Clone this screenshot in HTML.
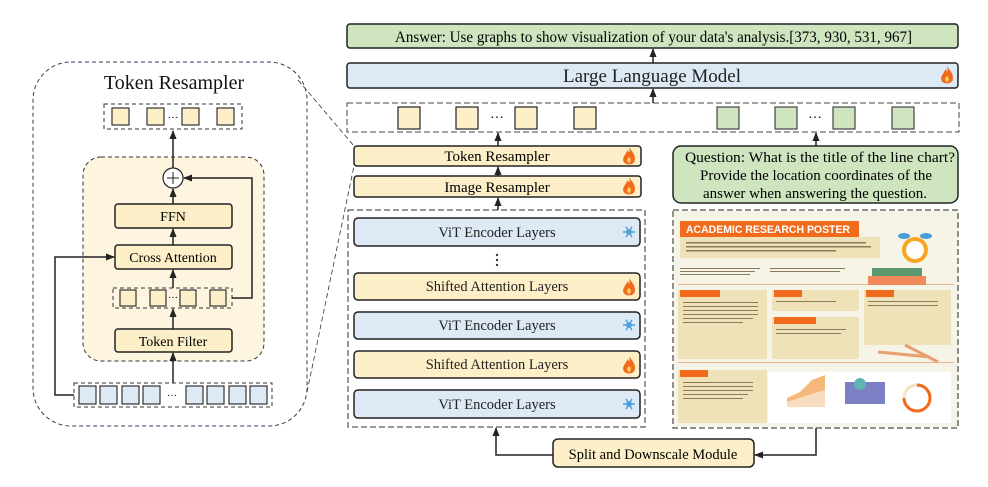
<!DOCTYPE html>
<html><head><meta charset="utf-8"><style>
html,body{margin:0;padding:0;background:#fff;}
svg{display:block;font-family:"Liberation Serif",serif;}
</style></head><body>
<svg width="988" height="487" viewBox="0 0 988 487" xmlns="http://www.w3.org/2000/svg">
<defs>
<marker id="ar" viewBox="0 0 10 10" refX="9" refY="5" markerWidth="6" markerHeight="6" orient="auto-start-reverse"><path d="M0,1 L10,5 L0,9 z" fill="#222"/></marker>
<g id="fire" transform="scale(1.4)"><path d="M0,-7 C3,-3 5,-1 4,3 C3,6 -3,6 -4,3 C-5,0 -2,-2 -1,-5 C0,-3 1,-2 0,-7z" fill="#f26b1d"/><path d="M0,0 C1.5,1 2,3 0,4.5 C-2,3 -1.5,1 0,0z" fill="#ffd166"/></g>
<g id="snow" stroke="#4a9fd8" stroke-width="1.4" fill="none"><path d="M-6,0 H6 M-3,-5.2 L3,5.2 M3,-5.2 L-3,5.2"/><circle r="2.2"/></g>
</defs>

<rect x="33" y="62" width="274" height="364" rx="38" fill="none" stroke="#2c3e5c" stroke-dasharray="4,3"/>
<text x="174" y="89" font-size="20" text-anchor="middle" fill="#111">Token Resampler</text>
<rect x="104" y="104" width="138" height="25" fill="none" stroke="#333" stroke-dasharray="4,3"/>
<g fill="#fdefc8" stroke="#333" stroke-width="1.2"><rect x="112" y="108" width="17" height="17"/><rect x="147" y="108" width="17" height="17"/><rect x="182" y="108" width="17" height="17"/><rect x="217" y="108" width="17" height="17"/></g>
<text x="173" y="121" font-size="11" text-anchor="middle">···</text>
<rect x="83" y="157" width="181" height="204" rx="18" fill="#fdf5e0" stroke="#333" stroke-dasharray="4,3"/>
<line x1="173" y1="168" x2="173" y2="131" stroke="#222" stroke-width="1.5" marker-end="url(#ar)"/>
<circle cx="173" cy="178" r="10" fill="#fff" stroke="#222" stroke-width="1.2"/>
<path d="M167,178 H179 M173,172 V184" stroke="#222"/>
<rect x="115" y="204" width="117" height="24" rx="3" fill="#fdefc8" stroke="#222" stroke-width="1.5"/>
<text x="173" y="221" font-size="14" text-anchor="middle">FFN</text>
<rect x="115" y="245" width="117" height="24" rx="3" fill="#fdefc8" stroke="#222" stroke-width="1.5"/>
<text x="173" y="262" font-size="14" text-anchor="middle">Cross Attention</text>
<rect x="113" y="288" width="119" height="20" fill="none" stroke="#333" stroke-dasharray="4,3"/>
<g fill="#fdefc8" stroke="#333" stroke-width="1.2"><rect x="120" y="290" width="16" height="16"/><rect x="150" y="290" width="16" height="16"/><rect x="180" y="290" width="16" height="16"/><rect x="210" y="290" width="16" height="16"/></g>
<text x="173" y="301" font-size="10" text-anchor="middle">···</text>
<rect x="115" y="329" width="117" height="23" rx="3" fill="#fdefc8" stroke="#222" stroke-width="1.5"/>
<text x="173" y="346" font-size="14" text-anchor="middle">Token Filter</text>
<g stroke="#222" stroke-width="1.5" fill="none">
<line x1="173" y1="204" x2="173" y2="189" marker-end="url(#ar)"/>
<line x1="173" y1="245" x2="173" y2="229" marker-end="url(#ar)"/>
<line x1="173" y1="288" x2="173" y2="270" marker-end="url(#ar)"/>
<line x1="173" y1="329" x2="173" y2="309" marker-end="url(#ar)"/>
<line x1="173" y1="383" x2="173" y2="353" marker-end="url(#ar)"/>
<path d="M232,298 H252 V178 H184" marker-end="url(#ar)"/>
<path d="M74,395 H55 V257 H114" marker-end="url(#ar)"/>
</g>
<rect x="74" y="383" width="198" height="24" fill="none" stroke="#333" stroke-dasharray="4,3"/>
<g fill="#dde9f5" stroke="#333" stroke-width="1.2"><rect x="79" y="386" width="17" height="18"/><rect x="100" y="386" width="17" height="18"/><rect x="122" y="386" width="17" height="18"/><rect x="143" y="386" width="17" height="18"/><rect x="186" y="386" width="17" height="18"/><rect x="207" y="386" width="17" height="18"/><rect x="229" y="386" width="17" height="18"/><rect x="250" y="386" width="17" height="18"/></g>
<text x="172" y="399" font-size="10" text-anchor="middle">···</text>
<line x1="298" y1="80" x2="354" y2="146" stroke="#333" stroke-dasharray="5,3" stroke-width="0.8"/>
<line x1="307" y1="392" x2="354" y2="166" stroke="#333" stroke-dasharray="5,3" stroke-width="0.8"/>

<rect x="347" y="24" width="611" height="24" rx="3" fill="#cfe5c0" stroke="#222" stroke-width="1.5"/>
<text x="395" y="42" font-size="16" textLength="517" lengthAdjust="spacingAndGlyphs">Answer: Use graphs to show visualization of your data's analysis.[373, 930, 531, 967]</text>
<rect x="347" y="63" width="611" height="25" rx="3" fill="#dde9f5" stroke="#222" stroke-width="1.5"/>
<text x="652" y="82" font-size="19" text-anchor="middle" fill="#222">Large Language Model</text>
<use href="#fire" x="947" y="76"/>
<line x1="653" y1="63" x2="653" y2="49" stroke="#222" stroke-width="1.5" marker-end="url(#ar)"/>
<line x1="653" y1="103" x2="653" y2="89" stroke="#222" stroke-width="1.5" marker-end="url(#ar)"/>
<rect x="347" y="103" width="612" height="29" fill="none" stroke="#444" stroke-dasharray="6,3"/>
<g fill="#fdefc8" stroke="#222" stroke-width="1.2"><rect x="398" y="107" width="22" height="22"/><rect x="456" y="107" width="22" height="22"/><rect x="515" y="107" width="22" height="22"/><rect x="574" y="107" width="22" height="22"/></g>
<g fill="#cfe5c0" stroke="#444" stroke-width="1.2"><rect x="717" y="107" width="22" height="22"/><rect x="775" y="107" width="22" height="22"/><rect x="833" y="107" width="22" height="22"/><rect x="892" y="107" width="22" height="22"/></g>
<text x="497" y="122" font-size="14" text-anchor="middle">···</text>
<text x="815" y="122" font-size="14" text-anchor="middle">···</text>

<rect x="354" y="146" width="287" height="20" rx="3" fill="#fdefc8" stroke="#222" stroke-width="1.5"/>
<text x="497" y="161" font-size="15" text-anchor="middle">Token Resampler</text>
<use href="#fire" x="629" y="157"/>
<rect x="354" y="176" width="287" height="21" rx="3" fill="#fdefc8" stroke="#222" stroke-width="1.5"/>
<text x="497" y="192" font-size="15" text-anchor="middle">Image Resampler</text>
<use href="#fire" x="629" y="187"/>
<g stroke="#222" stroke-width="1.5">
<line x1="498" y1="146" x2="498" y2="133" marker-end="url(#ar)"/>
<line x1="498" y1="176" x2="498" y2="167" marker-end="url(#ar)"/>
<line x1="498" y1="210" x2="498" y2="198" marker-end="url(#ar)"/>
<line x1="816" y1="146" x2="816" y2="133" marker-end="url(#ar)"/>
</g>
<rect x="673" y="146" width="285" height="57" rx="8" fill="#cfe5c0" stroke="#222" stroke-width="1.5"/>
<g font-size="15">
<text x="685" y="162" textLength="270" lengthAdjust="spacingAndGlyphs">Question: What is the title of the line chart?</text>
<text x="700" y="180" textLength="232" lengthAdjust="spacingAndGlyphs">Provide the location coordinates of the</text>
<text x="703" y="198" textLength="224" lengthAdjust="spacingAndGlyphs">answer when answering the question.</text>
</g>

<rect x="348" y="210" width="297" height="217" fill="none" stroke="#333" stroke-dasharray="6,3"/>
<g stroke="#222" stroke-width="1.5">
<rect x="354" y="218" width="286" height="28" rx="4" fill="#dde9f5"/>
<rect x="354" y="273" width="286" height="27" rx="4" fill="#fdefc8"/>
<rect x="354" y="312" width="286" height="27" rx="4" fill="#dde9f5"/>
<rect x="354" y="351" width="286" height="27" rx="4" fill="#fdefc8"/>
<rect x="354" y="390" width="286" height="28" rx="4" fill="#dde9f5"/>
</g>
<g font-size="14.5" text-anchor="middle" fill="#222">
<text x="497" y="237">ViT Encoder Layers</text>
<text x="497" y="291">Shifted Attention Layers</text>
<text x="497" y="330">ViT Encoder Layers</text>
<text x="497" y="369">Shifted Attention Layers</text>
<text x="497" y="409">ViT Encoder Layers</text>
</g>
<g fill="#333"><circle cx="497" cy="255" r="1.2"/><circle cx="497" cy="260" r="1.2"/><circle cx="497" cy="265" r="1.2"/></g>
<use href="#snow" x="629" y="232"/><use href="#snow" x="629" y="325"/><use href="#snow" x="629" y="404"/>
<use href="#fire" x="629" y="288"/><use href="#fire" x="629" y="366"/>

<rect x="553" y="439" width="201" height="28" rx="5" fill="#fdefc8" stroke="#222" stroke-width="1.5"/>
<text x="653" y="459" font-size="14.5" text-anchor="middle">Split and Downscale Module</text>
<g stroke="#222" stroke-width="1.5" fill="none">
<path d="M553,455 H496 V428" marker-end="url(#ar)"/>
<path d="M816,428 V455 H755" marker-end="url(#ar)"/>
</g>

<rect x="674" y="211" width="284" height="216" fill="#f6f4e6"/>
<rect x="680" y="221" width="179" height="16" fill="#f26b1d"/>
<text x="686" y="233" font-family="Liberation Sans,sans-serif" font-weight="bold" font-size="11" fill="#fff" textLength="164" lengthAdjust="spacingAndGlyphs">ACADEMIC RESEARCH POSTER</text>
<rect x="680" y="237" width="200" height="21" fill="#efe2b8"/>
<g fill="#8a7a5a"><rect x="686" y="242" width="180" height="1.5"/><rect x="686" y="246" width="185" height="1.5"/><rect x="686" y="250" width="150" height="1.5"/>
<rect x="680" y="268" width="80" height="1"/><rect x="680" y="271" width="75" height="1"/><rect x="680" y="274" width="70" height="1"/><rect x="770" y="268" width="75" height="1"/><rect x="770" y="271" width="70" height="1"/></g>
<rect x="678" y="284" width="276" height="1" fill="#e8b88a"/>
<rect x="872" y="268" width="50" height="9" fill="#5b9a6e"/><rect x="868" y="276" width="58" height="9" fill="#f08a5d"/>
<circle cx="915" cy="250" r="13" fill="#f5a623"/><circle cx="915" cy="250" r="9" fill="#fff"/>
<ellipse cx="904" cy="236" rx="6" ry="3" fill="#4a9fd8"/><ellipse cx="926" cy="236" rx="6" ry="3" fill="#4a9fd8"/>
<g fill="#efe2b8">
<rect x="678" y="290" width="89" height="69"/><rect x="772" y="290" width="87" height="21"/><rect x="772" y="317" width="87" height="42"/><rect x="864" y="290" width="87" height="55"/><rect x="678" y="370" width="89" height="53"/>
</g>
<g fill="#f26b1d"><rect x="680" y="290" width="40" height="7"/><rect x="774" y="290" width="28" height="7"/><rect x="774" y="317" width="42" height="7"/><rect x="866" y="290" width="28" height="7"/><rect x="680" y="370" width="28" height="7"/></g>
<g fill="#8a7a5a"><rect x="683" y="302" width="75" height="1"/><rect x="683" y="306" width="75" height="1"/><rect x="683" y="310" width="75" height="1"/><rect x="683" y="314" width="75" height="1"/><rect x="683" y="318" width="70" height="1"/><rect x="683" y="322" width="60" height="1"/>
<rect x="776" y="301" width="60" height="1"/><rect x="776" y="329" width="70" height="1"/><rect x="776" y="333" width="65" height="1"/><rect x="868" y="301" width="70" height="1"/><rect x="868" y="305" width="70" height="1"/>
<rect x="683" y="382" width="70" height="1"/><rect x="683" y="386" width="70" height="1"/><rect x="683" y="390" width="70" height="1"/><rect x="683" y="394" width="65" height="1"/><rect x="683" y="398" width="60" height="1"/></g>
<line x1="878" y1="352" x2="930" y2="357" stroke="#e8a070" stroke-width="3"/><line x1="905" y1="345" x2="938" y2="362" stroke="#e8a070" stroke-width="3"/>
<rect x="678" y="362" width="276" height="1" fill="#e8b88a"/>
<rect x="768" y="372" width="183" height="51" fill="#fff"/>
<path d="M787,407 L787,398 L800,392 L812,380 L825,375 L825,407z" fill="#f5b77a"/>
<path d="M787,407 L787,402 L805,396 L825,390 L825,407z" fill="#f8dcc0"/>
<rect x="845" y="382" width="40" height="22" fill="#7b7fc4"/><circle cx="860" cy="384" r="6" fill="#5fb3b3"/>
<circle cx="917" cy="398" r="13" fill="none" stroke="#f5e3c0" stroke-width="3"/>
<path d="M917,385 A13,13 0 1 1 904,398" fill="none" stroke="#f26b1d" stroke-width="3"/>
<rect x="673" y="210" width="285" height="218" fill="none" stroke="#222" stroke-dasharray="6,3"/>
</svg>
</body></html>
